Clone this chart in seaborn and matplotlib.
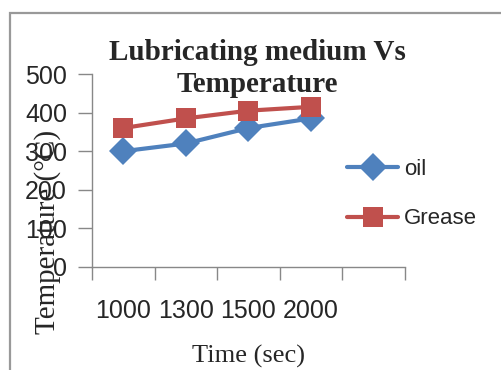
import matplotlib
matplotlib.use('Agg')
import matplotlib.pyplot as plt
import seaborn as sns
import pandas as pd
from matplotlib.patches import Rectangle
from matplotlib.lines import Line2D

# data
time_labels = ['1000', '1300', '1500', '2000', '']
oil_temp = [300, 320, 360, 385]
grease_temp = [360, 385, 405, 415]
y_ticks = [0, 100, 200, 300, 400, 500]

blue = '#4F81BD'
red = '#C0504D'

df = pd.DataFrame({
    'pos': list(range(len(oil_temp))) * 2,
    'temp': oil_temp + grease_temp,
    'medium': ['oil'] * len(oil_temp) + ['Grease'] * len(grease_temp),
})

sns.set_style('white')
plt.rcParams['font.family'] = ['Liberation Sans', 'DejaVu Sans']

fig = plt.figure(figsize=(5.02, 3.70), dpi=100)
ax = fig.add_axes([92 / 502, 1 - 267 / 370, 313 / 502, 193 / 370])

sns.lineplot(data=df, x='pos', y='temp', hue='medium', style='medium',
             palette={'oil': blue, 'Grease': red},
             markers={'oil': 'D', 'Grease': 's'}, dashes=False,
             linewidth=3, markersize=14, markeredgewidth=0,
             legend=False, ax=ax)

ax.set_xlim(-0.5, len(time_labels) - 0.5)
ax.set_ylim(0, 500)
ax.set_yticks(y_ticks)
ax.set_yticklabels([str(v) for v in y_ticks], fontsize=18)
ax.set_xticks([i - 0.5 for i in range(len(time_labels) + 1)])
ax.set_xticklabels([])
ax.set_xticks(range(len(time_labels)), minor=True)
ax.set_xticklabels(time_labels, minor=True, fontsize=18)
ax.tick_params(axis='x', which='major', direction='out', length=9, width=1, color='#888888', bottom=True)
ax.tick_params(axis='x', which='minor', length=0, pad=23)
ax.tick_params(axis='y', direction='out', length=10, width=1, color='#888888', left=True, pad=8)

for side in ['top', 'right']:
    ax.spines[side].set_visible(False)
for side in ['left', 'bottom']:
    ax.spines[side].set_color('#888888')
    ax.spines[side].set_linewidth(1)

ax.set_xlabel('Time (sec)', family='Liberation Serif', fontsize=19)
ax.xaxis.set_label_coords(0.5, -0.405)
ax.set_ylabel('Temperature (°C)', family='Liberation Serif', fontsize=21)
ax.yaxis.set_label_coords(-0.1, 0.18)

ax.text(0.527, 1.03, 'Lubricating medium Vs\nTemperature', transform=ax.transAxes,
        ha='center', va='center', family='Liberation Serif', fontweight='bold',
        fontsize=21, linespacing=1.25)

handles = [Line2D([], [], color=blue, marker='D', lw=3, markersize=14, markeredgewidth=0),
           Line2D([], [], color=red, marker='s', lw=3, markersize=14.5, markeredgewidth=0)]
fig.legend(handles, ['oil', 'Grease'], loc='center left',
           bbox_to_anchor=(347 / 502, 1 - 194 / 370), frameon=False,
           fontsize=16, handlelength=2.3, handletextpad=0.25, labelspacing=1.3,
           borderpad=0, borderaxespad=0)

fig.patches.append(Rectangle((10 / 502, -0.1), 1.2, 1.1 - 13 / 370,
                             transform=fig.transFigure, fill=False,
                             edgecolor='#999999', linewidth=1.6))

fig.savefig('out.png', dpi=100)
